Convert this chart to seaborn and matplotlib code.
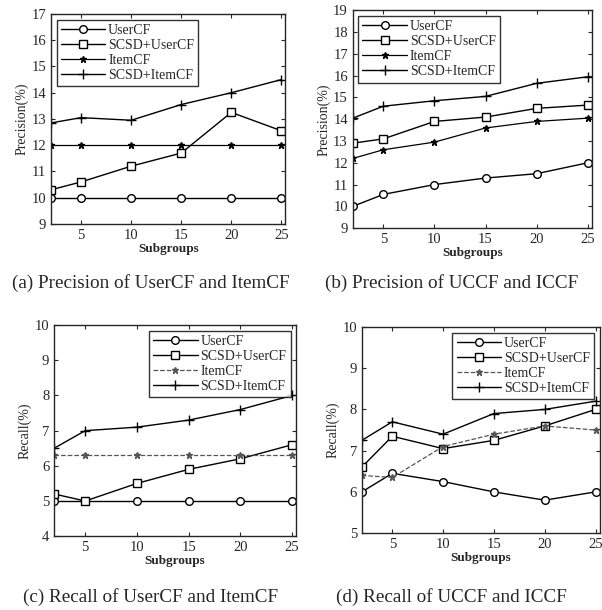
import seaborn as sns
import matplotlib.pyplot as plt
import pandas as pd

# Subgroup counts on the x axis
subgroups = [2, 5, 10, 15, 20, 25]
methods = ["UserCF", "SCSD+UserCF", "ItemCF", "SCSD+ItemCF"]

# (a) Precision of UserCF and ItemCF
prec_a = {
    "UserCF": [10.0, 10.0, 10.0, 10.0, 10.0, 10.0],
    "SCSD+UserCF": [10.3, 10.6, 11.2, 11.7, 13.25, 12.55],
    "ItemCF": [12.0, 12.0, 12.0, 12.0, 12.0, 12.0],
    "SCSD+ItemCF": [12.85, 13.05, 12.95, 13.55, 14.0, 14.5],
}
# (b) Precision of UCCF and ICCF
prec_b = {
    "UserCF": [10.0, 10.55, 11.0, 11.3, 11.5, 12.0],
    "SCSD+UserCF": [12.9, 13.1, 13.9, 14.1, 14.5, 14.65],
    "ItemCF": [12.2, 12.6, 12.95, 13.6, 13.9, 14.05],
    "SCSD+ItemCF": [14.05, 14.6, 14.85, 15.05, 15.65, 15.95],
}
# (c) Recall of UserCF and ItemCF
rec_c = {
    "UserCF": [5.0, 5.0, 5.0, 5.0, 5.0, 5.0],
    "SCSD+UserCF": [5.2, 5.0, 5.5, 5.9, 6.2, 6.6],
    "ItemCF": [6.3, 6.3, 6.3, 6.3, 6.3, 6.3],
    "SCSD+ItemCF": [6.5, 7.0, 7.1, 7.3, 7.6, 8.0],
}
# (d) Recall of UCCF and ICCF
rec_d = {
    "UserCF": [6.0, 6.45, 6.25, 6.0, 5.8, 6.0],
    "SCSD+UserCF": [6.6, 7.35, 7.05, 7.25, 7.6, 8.0],
    "ItemCF": [6.4, 6.35, 7.1, 7.4, 7.6, 7.5],
    "SCSD+ItemCF": [7.25, 7.7, 7.4, 7.9, 8.0, 8.2],
}

captions = [
    "(a) Precision of UserCF and ItemCF",
    "(b) Precision of UCCF and ICCF",
    "(c) Recall of UserCF and ItemCF",
    "(d) Recall of UCCF and ICCF",
]

sns.set_style("ticks")
plt.rcParams["font.family"] = ["Liberation Serif", "DejaVu Serif"]

fig = plt.figure(figsize=(6.02, 6.10), dpi=100)

# panel specs: data, axes rect, y-limits, y label, legend location, caption pos
panels = [
    (prec_a, [0.085, 0.633, 0.389, 0.344], (9, 17), "Precision(%)", "upper left", (0.25, 0.521)),
    (prec_b, [0.586, 0.626, 0.397, 0.357], (9, 19), "Precision(%)", "upper left", (0.75, 0.521)),
    (rec_c, [0.090, 0.121, 0.402, 0.346], (4, 10), "Recall(%)", "upper right", (0.25, 0.006)),
    (rec_d, [0.601, 0.126, 0.395, 0.338], (5, 10), "Recall(%)", "upper right", (0.75, 0.006)),
]

styles = {
    "UserCF": dict(marker="o", markersize=5.5, markerfacecolor="white", linestyle="-", linewidth=1.0),
    "SCSD+UserCF": dict(marker="s", markersize=5.5, markerfacecolor="white", linestyle="-", linewidth=1.0),
    "ItemCF": dict(marker="*", markersize=5, linestyle="-", linewidth=0.9),
    "SCSD+ItemCF": dict(marker="+", markersize=7, linestyle="-", linewidth=1.0),
}

for i, (data, rect, ylim, ylabel, loc, cap) in enumerate(panels):
    ax = fig.add_axes(rect)
    for m in methods:
        st = dict(styles[m])
        if i >= 2 and m == "ItemCF":
            st["linestyle"] = "--"
            st["color"] = "#555555"
        else:
            st["color"] = "black"
        df = pd.DataFrame({"Subgroups": subgroups, "value": data[m]})
        sns.lineplot(data=df, x="Subgroups", y="value", ax=ax, label=m,
                     markeredgecolor=st["color"], markeredgewidth=1.0, **st)
    ax.set_xlim(2, 25.4)
    ax.set_ylim(*ylim)
    ax.set_xticks([5, 10, 15, 20, 25])
    ax.set_yticks(range(ylim[0], ylim[1] + 1))
    ax.tick_params(direction="in", labelsize=10.5, length=3, top=True, right=True)
    ax.set_xlabel("Subgroups", fontsize=9.5, fontweight="bold", labelpad=1)
    ax.set_ylabel(ylabel, fontsize=10, labelpad=2)
    for sp in ax.spines.values():
        sp.set_linewidth(1.0)
    leg = ax.legend(loc=loc, fontsize=10, handlelength=3.2, frameon=True,
                    fancybox=False, edgecolor="black", borderpad=0.3,
                    labelspacing=0.15, handletextpad=0.2, borderaxespad=0.4)
    leg.get_frame().set_linewidth(1.0)
    fig.text(cap[0], cap[1], captions[i], ha="center", va="bottom", fontsize=13.8)

plt.savefig("out.png", dpi=100)
